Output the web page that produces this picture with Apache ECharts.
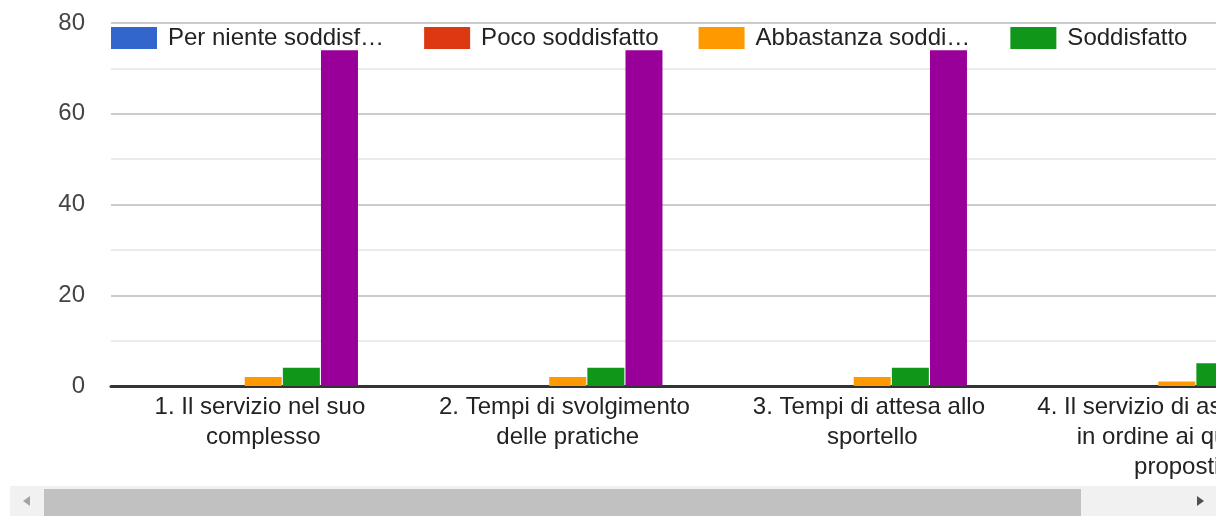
<!DOCTYPE html>
<html>
<head>
<meta charset="utf-8">
<script src="https://cdn.jsdelivr.net/npm/echarts@6/dist/echarts.min.js"></script>
<style>
  body{margin:0;background:#fff}
  #wrap{position:relative;width:1228px;height:516px;overflow:hidden;background:#fff}
  #view{position:absolute;left:0;top:0;width:1216px;height:486px;overflow:hidden}
  #chart{width:1500px;height:486px}
  .track{position:absolute;left:10px;top:486px;width:1206px;height:30px;background:#f1f1f1}
  .thumb{position:absolute;left:34px;top:3px;width:1037px;height:27px;background:#c1c1c1}
  .arr{position:absolute;top:10px;width:0;height:0;border-top:5px solid transparent;border-bottom:5px solid transparent}
  .arr.l{left:13px;border-right:7px solid #a3a3a3}
  .arr.r{left:1187px;border-left:7px solid #505050}
</style>
</head>
<body>
<div id="wrap">
  <div id="view"><div id="chart"></div></div>
  <div class="track"><div class="thumb"></div><div class="arr l"></div><div class="arr r"></div></div>
</div>
<script>
// domande (categorie asse x)
const categories = [
  '1. Il servizio nel suo complesso',
  '2. Tempi di svolgimento delle pratiche',
  '3. Tempi di attesa allo sportello',
  '4. Il servizio di assistenza in ordine ai quesiti proposti'
]
// nomi delle serie
const seriesNames = ['Per niente soddisfatto', 'Poco soddisfatto', 'Abbastanza soddisfatto', 'Soddisfatto', 'Molto soddisfatto']
// valori
const perNiente = [0, 0, 0, 0]
const poco = [0, 0, 0, 0]
const abbastanza = [2, 2, 2, 1]
const soddisfatto = [4, 4, 4, 5]
const molto = [74, 74, 74, 74]
const yTicks = [0, 20, 40, 60, 80]

const colors = ['#3366cc', '#dc3912', '#ff9900', '#109618', '#990099']
const font = 'Arial, "Liberation Sans", sans-serif'

// accorcia i nomi troppo lunghi per la legenda
const ctx = document.createElement('canvas').getContext('2d')
ctx.font = '24px ' + font
function cut(name, maxW){
  if(ctx.measureText(name).width <= maxW) return name
  let s = name
  while(s.length > 1 && ctx.measureText(s + '…').width > maxW){
    s = s.slice(0, -1)
  }
  return s.trimEnd() + '…'
}

const chart = echarts.init(document.getElementById('chart'))
const values = [perNiente, poco, abbastanza, soddisfatto, molto]

const option = {
  animation: false,
  textStyle: {fontFamily: font},
  color: colors,
  legend: {
    left: 111,
    top: 26,
    padding: 0,
    width: 1400,
    itemWidth: 46,
    itemHeight: 22,
    itemGap: 40,
    icon: 'rect',
    data: seriesNames,
    formatter: name => cut(name, 220),
    textStyle: {
      fontSize: 24,
      color: '#222',
      padding: [0, 0, 0, 6]
    }
  },
  grid: {left: 111, top: 23, width: 1218, height: 363},
  xAxis: {
    type: 'category',
    data: categories,
    axisTick: {show: false},
    axisLine: {lineStyle: {color: '#333', width: 3}},
    axisLabel: {
      fontSize: 24,
      lineHeight: 30,
      color: '#222',
      margin: 6,
      width: 282,
      overflow: 'break',
      interval: 0
    }
  },
  yAxis: {
    type: 'value',
    min: yTicks[0],
    max: yTicks[yTicks.length - 1],
    interval: 20,
    axisLabel: {fontSize: 24, color: '#444', margin: 26},
    axisLine: {show: false},
    axisTick: {show: false},
    splitLine: {lineStyle: {color: '#cccccc', width: 2}},
    minorTick: {show: false, splitNumber: 2},
    minorSplitLine: {show: true, lineStyle: {color: '#ebebeb', width: 2}}
  },
  series: seriesNames.map((name, i) => ({
    name: name,
    type: 'bar',
    data: values[i],
    barWidth: 37,
    barGap: '3%'
  }))
}
chart.setOption(option)
</script>
</body>
</html>
